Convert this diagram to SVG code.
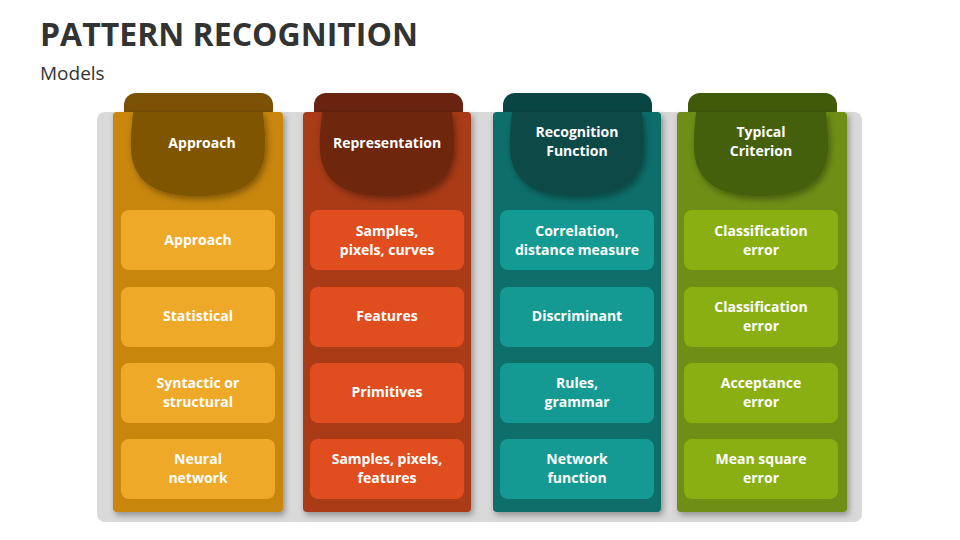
<svg xmlns="http://www.w3.org/2000/svg" width="960" height="540" viewBox="0 0 960 540">
<defs>
<filter id="sh" x="-20%" y="-20%" width="140%" height="140%"><feDropShadow dx="2" dy="3" stdDeviation="3" flood-opacity="0.35"/></filter>
<g id="pouch"><path d="M-65,0 C-67,25 -72,50 -55,68 C-40,82 -20,84 0,84 C20,84 40,82 55,68 C72,50 67,25 65,0 Z"/></g>
</defs>
<style>
text{font-family:"Open Sans","Liberation Sans",sans-serif;fill:#fff;font-weight:bold;font-size:14px;text-anchor:middle}
.t{fill:#333;font-size:32px;text-anchor:start}
.s{fill:#333;font-size:19px;font-weight:normal;text-anchor:start}
.c{filter:url(#sh)}
</style>
<text class="t" x="40" y="46">PATTERN RECOGNITION</text>
<text class="s" x="40" y="80">Models</text>
<rect x="97" y="112" width="765" height="410" rx="8" fill="#d9d9d9"/>
<g id="col1">
<rect x="124" y="93" width="149" height="30" rx="12" fill="#7a5105"/>
<rect class="c" x="113" y="112" width="170" height="400" rx="4" fill="#c8860f"/>
<use href="#pouch" x="198" y="112" fill="#7f5505" class="c"/>
<text x="202" y="148">Approach</text>
<rect x="121" y="210" width="154" height="60" rx="8" fill="#efa928"/><text x="198" y="245">Approach</text>
<rect x="121" y="287" width="154" height="60" rx="8" fill="#efa928"/><text x="198" y="321">Statistical</text>
<rect x="121" y="363" width="154" height="60" rx="8" fill="#efa928"/><text x="198" y="388">Syntactic or</text><text x="198" y="407">structural</text>
<rect x="121" y="439" width="154" height="60" rx="8" fill="#efa928"/><text x="198" y="464">Neural</text><text x="198" y="483">network</text>
</g>
<g id="col2">
<rect x="314" y="93" width="149" height="30" rx="12" fill="#6a230e"/>
<rect class="c" x="303" y="112" width="168" height="400" rx="4" fill="#a93a17"/>
<use href="#pouch" x="387" y="112" fill="#6e2510" class="c"/>
<text x="387" y="148">Representation</text>
<rect x="310" y="210" width="154" height="60" rx="8" fill="#e04e20"/><text x="387" y="236">Samples,</text><text x="387" y="255">pixels, curves</text>
<rect x="310" y="287" width="154" height="60" rx="8" fill="#e04e20"/><text x="387" y="321">Features</text>
<rect x="310" y="363" width="154" height="60" rx="8" fill="#e04e20"/><text x="387" y="397">Primitives</text>
<rect x="310" y="439" width="154" height="60" rx="8" fill="#e04e20"/><text x="387" y="464">Samples, pixels,</text><text x="387" y="483">features</text>
</g>
<g id="col3">
<rect x="503" y="93" width="149" height="30" rx="12" fill="#094643"/>
<rect class="c" x="493" y="112" width="168" height="400" rx="4" fill="#0e6e6a"/>
<use href="#pouch" x="577" y="112" fill="#0a4a47" class="c"/>
<text x="577" y="137">Recognition</text><text x="577" y="156">Function</text>
<rect x="500" y="210" width="154" height="60" rx="8" fill="#149a92"/><text x="577" y="236">Correlation,</text><text x="577" y="255">distance measure</text>
<rect x="500" y="287" width="154" height="60" rx="8" fill="#149a92"/><text x="577" y="321">Discriminant</text>
<rect x="500" y="363" width="154" height="60" rx="8" fill="#149a92"/><text x="577" y="388">Rules,</text><text x="577" y="407">grammar</text>
<rect x="500" y="439" width="154" height="60" rx="8" fill="#149a92"/><text x="577" y="464">Network</text><text x="577" y="483">function</text>
</g>
<g id="col4">
<rect x="688" y="93" width="149" height="30" rx="12" fill="#415a09"/>
<rect class="c" x="677" y="112" width="170" height="400" rx="4" fill="#6e8e14"/>
<use href="#pouch" x="761" y="112" fill="#45600a" class="c"/>
<text x="761" y="137">Typical</text><text x="761" y="156">Criterion</text>
<rect x="684" y="210" width="154" height="60" rx="8" fill="#8aaf12"/><text x="761" y="236">Classification</text><text x="761" y="255">error</text>
<rect x="684" y="287" width="154" height="60" rx="8" fill="#8aaf12"/><text x="761" y="312">Classification</text><text x="761" y="331">error</text>
<rect x="684" y="363" width="154" height="60" rx="8" fill="#8aaf12"/><text x="761" y="388">Acceptance</text><text x="761" y="407">error</text>
<rect x="684" y="439" width="154" height="60" rx="8" fill="#8aaf12"/><text x="761" y="464">Mean square</text><text x="761" y="483">error</text>
</g>
</svg>
